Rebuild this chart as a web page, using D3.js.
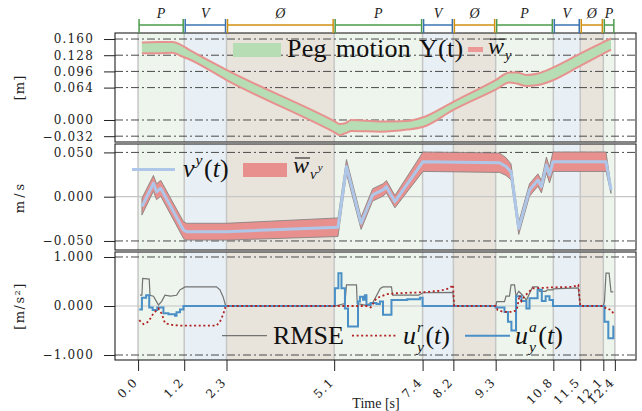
<!DOCTYPE html>
<html>
<head>
<meta charset="utf-8">
<script src="https://cdn.jsdelivr.net/npm/d3@7"></script>
<style>
  body { margin: 0; background: #fff; }
  svg { display: block; }
</style>
</head>
<body>
<script>
// ---- phases / ticks ----
var phaseStart = [0.0, 1.2, 2.3, 5.1, 7.4, 8.2, 9.3, 10.8, 11.5, 12.1];
var phaseEnd   = [1.2, 2.3, 5.1, 7.4, 8.2, 9.3, 10.8, 11.5, 12.1, 12.4];
var phaseKind  = ["P", "V", "O", "P", "V", "O", "P", "V", "O", "P"];
var phaseName  = { P: "P", V: "V", O: "Ø" };
var timeTicks  = [0.0, 1.2, 2.3, 5.1, 7.4, 8.2, 9.3, 10.8, 11.5, 12.1, 12.4];

var posTicks = [0.160, 0.128, 0.096, 0.064, 0.000, -0.032];
var velTicks = [0.050, 0.000, -0.050];
var accTicks = [1.000, 0.000, -1.000];

// ---- peg motion Y(t) band ----
var pegT     = [0.1, 0.5, 0.9, 1.1, 1.3, 2.3, 5.1, 5.25, 5.4, 5.55, 6.3, 7.0, 7.4, 8.2, 9.3, 9.66, 9.85, 10.1, 10.4, 10.6, 10.8, 11.5, 12.1, 12.3];
var pegUpper = [0.153, 0.154, 0.154, 0.149, 0.140, 0.099, -0.002, -0.008, -0.006, 0.000, -0.003, -0.002, 0.005, 0.036, 0.079, 0.094, 0.094, 0.089, 0.092, 0.097, 0.104, 0.131, 0.154, 0.161];
var pegLower = [0.132, 0.132, 0.133, 0.127, 0.121, 0.079, -0.024, -0.030, -0.026, -0.022, -0.023, -0.019, -0.014, 0.020, 0.060, 0.074, 0.072, 0.067, 0.069, 0.073, 0.079, 0.107, 0.131, 0.139];

// ---- velocity v^y(t) and its band half width ----
var velT = [0.1, 0.4, 0.48, 0.59, 1.18, 1.26, 2.3, 5.2, 5.42, 5.8, 6.1, 6.37, 6.46, 6.68, 7.41, 9.4, 9.57, 9.7, 9.9, 10.18, 10.4, 10.49, 10.62, 10.7, 10.79, 12.17, 12.3];
var vel  = [-0.0113, 0.0151, 0.0056, 0.0095, -0.0376, -0.0395, -0.0395, -0.0345, 0.034, -0.030, 0.002, 0.0076, 0.0113, -0.0056, 0.0395, 0.0384, 0.034, 0.028, -0.0357, 0.0076, 0.0188, 0.0113, 0.0358, 0.0245, 0.0395, 0.0395, 0.0076];
var velW = [0.0095, 0.009, 0.009, 0.009, 0.0095, 0.0095, 0.0095, 0.0105, 0.008, 0.007, 0.007, 0.007, 0.007, 0.007, 0.011, 0.011, 0.010, 0.009, 0.007, 0.007, 0.007, 0.007, 0.009, 0.009, 0.011, 0.011, 0.004];

// ---- accelerations ----
var uaT = [0.03, 0.1, 0.21, 0.29, 0.38, 0.5, 0.66, 0.79, 0.96, 1.0, 1.09, 1.18, 5.12, 5.21, 5.29, 5.38, 5.46, 5.72, 5.77, 5.85, 5.9, 5.94, 6.05, 6.2, 6.29, 6.37, 6.59, 7.0, 7.33, 7.4, 9.3, 9.53, 9.62, 9.71, 9.83, 9.97, 10.1, 10.18, 10.39, 10.5, 10.6, 10.7, 10.79, 12.13, 12.23, 12.36, 12.38];
var ua  = [-0.07, 0.17, 0.22, -0.03, -0.08, -0.03, -0.15, -0.17, -0.20, -0.13, -0.07, 0.0, 0.36, 0.67, 0.36, -0.05, -0.42, 0.09, 0.19, 0.13, 0.22, 0.02, 0.06, 0.04, 0.09, -0.18, 0.12, 0.14, 0.17, 0.0, -0.03, -0.12, -0.32, -0.50, 0.20, 0.10, -0.05, 0.16, 0.33, 0.10, 0.20, 0.12, 0.0, -0.32, -0.66, -0.42, -0.42];

var urT = [0.03, 0.14, 0.27, 0.4, 0.53, 0.61, 0.7, 0.92, 1.1, 2.04, 2.13, 2.21, 2.28, 5.94, 6.05, 6.2, 6.46, 6.72, 7.41, 7.84, 8.1, 8.19, 8.22, 9.3, 9.35, 9.5, 9.75, 9.85, 9.92, 9.97, 10.05, 10.26, 10.79, 11.3, 11.45, 11.5, 12.1, 12.17, 12.3, 12.36];
var ur  = [-0.29, -0.37, -0.32, -0.15, -0.05, -0.15, -0.35, -0.39, -0.40, -0.40, -0.32, -0.18, 0.0, 0.0, -0.03, 0.16, 0.24, 0.26, 0.28, 0.31, 0.36, 0.43, 0.0, 0.0, -0.08, -0.12, -0.12, -0.08, 0.22, 0.10, 0.20, 0.36, 0.38, 0.39, 0.43, 0.0, 0.0, -0.05, -0.08, -0.15];

var rmseT = [0.05, 0.1, 0.12, 0.29, 0.31, 0.4, 0.48, 0.53, 0.61, 0.7, 0.84, 1.0, 1.09, 1.18, 1.22, 2.04, 2.13, 2.21, 2.28, 2.3,
             5.12, 5.38, 5.42, 5.68, 5.7, 5.9, 6.1, 6.3, 6.37, 6.59, 6.62, 7.3, 7.41, 8.19, 8.22, 8.25,
             9.3, 9.33, 9.53, 9.57, 9.66, 9.7, 9.79, 9.83, 9.9, 10.0, 10.1, 10.26, 10.4, 10.45, 10.6, 10.65, 10.79, 10.8, 11.45, 11.5, 11.55,
             12.1, 12.13, 12.17, 12.25, 12.3, 12.36];
var rmse  = [0.22, 0.22, 0.565, 0.55, 0.22, 0.20, 0.09, 0.02, 0.09, 0.22, 0.20, 0.22, 0.33, 0.37, 0.39, 0.39, 0.33, 0.19, 0.0, null,
             0.0, 0.05, 0.43, 0.43, 0.05, 0.02, 0.06, 0.36, 0.39, 0.39, 0.22, 0.22, 0.27, 0.28, 0.0, null,
             0.0, 0.09, 0.09, 0.20, 0.20, 0.43, 0.43, 0.20, 0.30, 0.22, 0.12, 0.39, 0.39, 0.30, 0.30, 0.33, 0.33, 0.35, 0.37, 0.0, null,
             0.0, 0.09, 0.67, 0.67, 0.29, 0.29];

// ---- styles ----
var kindBg   = { P: "#edf5ec", V: "#e9f0f5", O: "#e8e4dc" };
var kindLine = { P: "#4b9b4b", V: "#3a72b0", O: "#d18f10" };
var serif = "'Liberation Serif', 'Times New Roman', serif";
var tickFont = "'DejaVu Serif', serif";

var W = 642, H = 411;
var svg = d3.select("body").append("svg").attr("width", W).attr("height", H);

var x = d3.scaleLinear().domain([-0.6, 12.95]).range([115, 636]);

var panels = [
  { top: 33,  bottom: 142, y: d3.scaleLinear().domain([-0.0435, 0.1719]).range([142, 33]), ticks: posTicks, dash: posTicks, solid: [], label: "[m]", ls: 1 },
  { top: 144, bottom: 250, y: d3.scaleLinear().domain([-0.0602, 0.0595]).range([250, 144]), ticks: velTicks, dash: [0.05, -0.05], solid: [0], label: "m/s", ls: 3 },
  { top: 252, bottom: 360, y: d3.scaleLinear().domain([-1.102, 1.102]).range([360, 252]), ticks: accTicks, dash: [1, -1], solid: [0], label: "[m/s²]", ls: 1.5 }
];

var phases = phaseStart.map(function(s, i) {
  return { s: s, e: phaseEnd[i], k: phaseKind[i] };
});

panels.forEach(function(p, pi) {
  var cid = "clip" + pi;
  svg.append("clipPath").attr("id", cid).append("rect")
    .attr("x", 115).attr("y", p.top).attr("width", 521).attr("height", p.bottom - p.top);
  p.g = svg.append("g").attr("clip-path", "url(#" + cid + ")");

  // phase shading
  p.g.selectAll("rect.bg").data(phases).enter().append("rect")
    .attr("x", function(d) { return x(d.s); })
    .attr("width", function(d) { return x(d.e) - x(d.s); })
    .attr("y", p.top).attr("height", p.bottom - p.top)
    .attr("fill", function(d) { return kindBg[d.k]; });

  // vertical grid
  p.g.selectAll("line.vg").data(timeTicks).enter().append("line")
    .attr("x1", function(d) { return x(d); }).attr("x2", function(d) { return x(d); })
    .attr("y1", p.top).attr("y2", p.bottom)
    .attr("stroke", "#c6c6c6").attr("stroke-width", 1.5);

  // horizontal solid grid
  p.g.selectAll("line.sg").data(p.solid).enter().append("line")
    .attr("x1", 115).attr("x2", 636)
    .attr("y1", function(d) { return p.y(d); }).attr("y2", function(d) { return p.y(d); })
    .attr("stroke", "#c6c6c6").attr("stroke-width", 1.2);

  // dash-dot lines
  p.g.selectAll("line.dg").data(p.dash).enter().append("line")
    .attr("x1", 115).attr("x2", 636)
    .attr("y1", function(d) { return p.y(d); }).attr("y2", function(d) { return p.y(d); })
    .attr("stroke", "#4a4a4a").attr("stroke-width", 1)
    .attr("stroke-dasharray", "8,3,2,3");

  // y axis
  var ax = svg.append("g").attr("transform", "translate(115,0)")
    .call(d3.axisLeft(p.y).tickValues(p.ticks).tickFormat(d3.format(".3f")).tickSize(11).tickPadding(10));
  ax.select(".domain").remove();
  ax.selectAll("line").attr("stroke", "#222");
  ax.selectAll("text").attr("font-family", tickFont).attr("font-size", 12)
    .attr("letter-spacing", 1.2).attr("fill", "#222");

  svg.append("text")
    .attr("transform", "translate(24," + ((p.top + p.bottom) / 2) + ") rotate(-90)")
    .attr("text-anchor", "middle")
    .attr("font-family", tickFont).attr("font-size", 13)
    .attr("letter-spacing", p.ls).attr("fill", "#222")
    .text(p.label);
});

// ---- panel 1: peg band ----
var p1 = panels[0], p2 = panels[1], p3 = panels[2];
var idxPeg = d3.range(pegT.length);
p1.g.append("path").datum(idxPeg)
  .attr("fill", "#b6ddb4")
  .attr("d", d3.area().curve(d3.curveMonotoneX)
    .x(function(i) { return x(pegT[i]); })
    .y0(function(i) { return p1.y(pegLower[i]); })
    .y1(function(i) { return p1.y(pegUpper[i]); }));
[pegUpper, pegLower].forEach(function(arr) {
  p1.g.append("path").datum(idxPeg)
    .attr("fill", "none").attr("stroke", "#e8928f").attr("stroke-width", 2)
    .attr("d", d3.line().curve(d3.curveMonotoneX)
      .x(function(i) { return x(pegT[i]); })
      .y(function(i) { return p1.y(arr[i]); }));
});

// ---- panel 2: velocity ----
var idxVel = d3.range(velT.length);
p2.g.append("path").datum(idxVel)
  .attr("fill", "#e8908e").attr("stroke", "#7d7d7d").attr("stroke-width", 0.8)
  .attr("d", d3.area()
    .x(function(i) { return x(velT[i]); })
    .y0(function(i) { return p2.y(vel[i] - velW[i]); })
    .y1(function(i) { return p2.y(vel[i] + velW[i]); }));
p2.g.append("path").datum(idxVel)
  .attr("fill", "none").attr("stroke", "#aec7e8").attr("stroke-width", 3)
  .attr("stroke-linejoin", "round")
  .attr("d", d3.line()
    .x(function(i) { return x(velT[i]); })
    .y(function(i) { return p2.y(vel[i]); }));

// ---- panel 3: accelerations ----
p3.g.append("path").datum(d3.range(rmseT.length))
  .attr("fill", "none").attr("stroke", "#737373").attr("stroke-width", 1.2)
  .attr("d", d3.line()
    .defined(function(i) { return rmse[i] !== null; })
    .x(function(i) { return x(rmseT[i]); })
    .y(function(i) { return p3.y(rmse[i]); }));
p3.g.append("path").datum(d3.range(uaT.length))
  .attr("fill", "none").attr("stroke", "#4a8fc6").attr("stroke-width", 2)
  .attr("d", d3.line().curve(d3.curveStepAfter)
    .x(function(i) { return x(uaT[i]); })
    .y(function(i) { return p3.y(ua[i]); }));
p3.g.append("path").datum(d3.range(urT.length))
  .attr("fill", "none").attr("stroke", "#b22222").attr("stroke-width", 1.8)
  .attr("stroke-dasharray", "2,2.6")
  .attr("d", d3.line()
    .x(function(i) { return x(urT[i]); })
    .y(function(i) { return p3.y(ur[i]); }));

// ---- frames ----
panels.forEach(function(p) {
  svg.append("rect").attr("x", 115).attr("y", p.top)
    .attr("width", 521).attr("height", p.bottom - p.top)
    .attr("fill", "none").attr("stroke", "#222").attr("stroke-width", 1.1);
});

// ---- x axis ----
var xa = svg.append("g").attr("transform", "translate(0,360)")
  .call(d3.axisBottom(x).tickValues(timeTicks).tickFormat(d3.format(".1f")).tickSize(11));
xa.select(".domain").remove();
xa.selectAll("line").attr("stroke", "#222");
xa.selectAll("text")
  .attr("font-family", tickFont).attr("font-size", 12).attr("letter-spacing", 1.2)
  .attr("fill", "#222")
  .attr("text-anchor", "end")
  .attr("x", 0).attr("y", 0).attr("dy", "0.35em")
  .attr("transform", "translate(-3,20) rotate(-45)");

svg.append("text").attr("x", 376).attr("y", 408).attr("text-anchor", "middle")
  .attr("font-family", serif).attr("font-size", 14).attr("fill", "#222")
  .text("Time [s]");

// ---- top phase annotation ----
var phaseG = svg.append("g");
phases.forEach(function(d) {
  var a = x(d.s) + 1, b = x(d.e) - 1, c = kindLine[d.k];
  phaseG.append("line").attr("x1", a).attr("x2", b).attr("y1", 25).attr("y2", 25)
    .attr("stroke", c).attr("stroke-width", 1.5);
  [a, b].forEach(function(xx) {
    phaseG.append("line").attr("x1", xx).attr("x2", xx).attr("y1", 19).attr("y2", 33)
      .attr("stroke", c).attr("stroke-width", 1.5);
  });
  phaseG.append("text").attr("x", (a + b) / 2).attr("y", 18).attr("text-anchor", "middle")
    .attr("font-family", serif).attr("font-style", "italic").attr("font-size", 14)
    .attr("fill", "#222").text(phaseName[d.k]);
});

// ---- legend helpers ----
function txt(x0, y0, s, size, italic) {
  var t = svg.append("text").attr("x", x0).attr("y", y0)
    .attr("font-family", serif).attr("font-size", size).attr("fill", "#111")
    .attr("font-style", italic ? "italic" : "normal").text(s);
  return t.node().getComputedTextLength();
}
// base^sup_sub followed by (t)
function mathLabel(x0, y0, base, sup, sub, tail, size, bar) {
  var bw = txt(x0, y0, base, size, true);
  if (bar) {
    svg.append("line").attr("x1", x0 + 2).attr("x2", x0 + bw + 1)
      .attr("y1", y0 - size * 0.62).attr("y2", y0 - size * 0.62)
      .attr("stroke", "#111").attr("stroke-width", 1);
  }
  var sx = x0 + bw + 1, mw = 0;
  if (sup) mw = Math.max(mw, txt(sx, y0 - size * 0.46, sup, size * 0.6, true));
  if (sub) mw = Math.max(mw, txt(sx, y0 + size * (sup ? 0.32 : 0.24), sub, size * 0.6, true));
  if (tail) {
    var tx = sx + mw + 1.5;
    tx += txt(tx, y0, "(", size, false);
    tx += txt(tx, y0, "t", size, true);
    txt(tx, y0, ")", size, false);
  }
}

// legend panel 1
svg.append("rect").attr("x", 233).attr("y", 43).attr("width", 48).attr("height", 14).attr("fill", "#b6ddb4");
svg.append("text").attr("x", 287).attr("y", 57)
  .attr("font-family", serif).attr("font-size", 26).attr("letter-spacing", 0.3)
  .attr("word-spacing", 2).attr("fill", "#111").text("Peg motion Y(t)");
svg.append("line").attr("x1", 468).attr("x2", 483).attr("y1", 49.5).attr("y2", 49.5)
  .attr("stroke", "#ec9896").attr("stroke-width", 5);
mathLabel(488, 54, "w", null, "y", false, 24, true);

// legend panel 2
svg.append("line").attr("x1", 132).attr("x2", 175).attr("y1", 169.5).attr("y2", 169.5)
  .attr("stroke", "#aec7e8").attr("stroke-width", 3);
mathLabel(183, 177, "v", "y", null, true, 26, false);
svg.append("rect").attr("x", 243).attr("y", 163).attr("width", 44).attr("height", 14).attr("fill", "#e8908e");
(function() {
  var bw = txt(293, 173, "w", 24, true);
  svg.append("line").attr("x1", 295).attr("x2", 293 + bw + 1)
    .attr("y1", 173 - 15).attr("y2", 173 - 15).attr("stroke", "#111").attr("stroke-width", 1);
  var vw = txt(293 + bw + 1, 179, "v", 15, true);
  txt(293 + bw + vw + 2, 171, "y", 11, true);
})();

// legend panel 3
svg.append("line").attr("x1", 222).attr("x2", 267).attr("y1", 335.7).attr("y2", 335.7)
  .attr("stroke", "#737373").attr("stroke-width", 1.2);
txt(273, 344, "RMSE", 26, false);
svg.append("line").attr("x1", 352).attr("x2", 397).attr("y1", 335.7).attr("y2", 335.7)
  .attr("stroke", "#b22222").attr("stroke-width", 1.8).attr("stroke-dasharray", "2,2.6");
mathLabel(403, 344, "u", "r", "y", true, 26, false);
svg.append("line").attr("x1", 465).attr("x2", 510).attr("y1", 335.7).attr("y2", 335.7)
  .attr("stroke", "#4a8fc6").attr("stroke-width", 2);
mathLabel(515, 344, "u", "a", "y", true, 26, false);
</script>
</body>
</html>
